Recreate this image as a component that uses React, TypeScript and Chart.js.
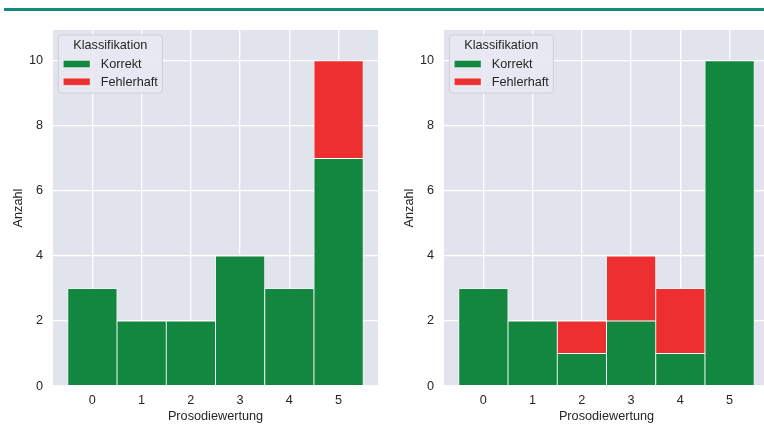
import React, { useEffect, useRef } from "react";
import { Chart, registerables } from "chart.js";

Chart.register(...registerables);

const categories = [0, 1, 2, 3, 4, 5];
const leftKorrekt = [3, 2, 2, 4, 3, 7];
const leftFehlerhaft = [0, 0, 0, 0, 0, 3];
const rightKorrekt = [3, 2, 1, 2, 1, 10];
const rightFehlerhaft = [0, 0, 1, 2, 2, 0];
const yTicks = [0, 2, 4, 6, 8, 10];
const legendTitle = "Klassifikation";
const seriesNames = ["Korrekt", "Fehlerhaft"];
const xTitle = "Prosodiewertung";
const yTitle = "Anzahl";

const GREEN = "#13873f";
const RED = "#ee2f30";
const BG = "#e2e4ed";
const TEXT = "#262626";
const FONT_FAMILY = "'Liberation Sans', Arial, sans-serif";
const FONT_SIZE = 12.7;

const bgPlugin = {
  id: "bgFill",
  beforeDraw(chart: any) {
    const { ctx, chartArea } = chart;
    ctx.save();
    ctx.fillStyle = BG;
    ctx.fillRect(chartArea.left, chartArea.top, chartArea.right - chartArea.left, chartArea.bottom - chartArea.top);
    ctx.restore();
  },
};

const legendPlugin = {
  id: "insideLegend",
  afterDraw(chart: any) {
    const { ctx, chartArea } = chart;
    const x0 = chartArea.left + 5.3;
    const y0 = chartArea.top + 5;
    const w = 104;
    const h = 58;
    ctx.save();
    ctx.beginPath();
    const r = 3;
    ctx.moveTo(x0 + r, y0);
    ctx.arcTo(x0 + w, y0, x0 + w, y0 + h, r);
    ctx.arcTo(x0 + w, y0 + h, x0, y0 + h, r);
    ctx.arcTo(x0, y0 + h, x0, y0, r);
    ctx.arcTo(x0, y0, x0 + w, y0, r);
    ctx.closePath();
    ctx.fillStyle = "rgba(232,233,241,0.85)";
    ctx.fill();
    ctx.strokeStyle = "#cfd0d6";
    ctx.lineWidth = 1;
    ctx.stroke();

    ctx.font = `${FONT_SIZE}px ${FONT_FAMILY}`;
    ctx.fillStyle = TEXT;
    ctx.textBaseline = "middle";
    ctx.textAlign = "center";
    ctx.fillText(legendTitle, x0 + w / 2, y0 + 10.7);

    const colors = [GREEN, RED];
    const rows = [y0 + 29, y0 + 46.7];
    ctx.textAlign = "left";
    seriesNames.forEach((name, i) => {
      ctx.fillStyle = colors[i];
      ctx.fillRect(x0 + 5, rows[i] - 3.5, 26.7, 7);
      ctx.strokeStyle = "rgba(255,255,255,0.6)";
      ctx.lineWidth = 0.6;
      ctx.strokeRect(x0 + 5, rows[i] - 3.5, 26.7, 7);
      ctx.fillStyle = TEXT;
      ctx.fillText(name, x0 + 42.4, rows[i] + 0.5);
    });
    ctx.restore();
  },
};

function Panel({ left, korrekt, fehlerhaft }: { left: number; korrekt: number[]; fehlerhaft: number[] }) {
  const ref = useRef<HTMLCanvasElement | null>(null);
  useEffect(() => {
    if (!ref.current) return;
    const font = { family: FONT_FAMILY, size: FONT_SIZE };
    const barCommon = {
      borderColor: "rgba(255,255,255,0.85)",
      borderWidth: 0.8,
      borderSkipped: false,
      categoryPercentage: 1,
      barPercentage: 1,
    };
    const chart = new Chart(ref.current, {
      type: "bar",
      data: {
        datasets: [
          {
            label: seriesNames[0],
            data: categories.map((c, i) => ({ x: c, y: korrekt[i] })).filter((p) => p.y > 0),
            backgroundColor: GREEN,
            ...barCommon,
          } as any,
          {
            label: seriesNames[1],
            data: categories.map((c, i) => ({ x: c, y: fehlerhaft[i] })).filter((p) => p.y > 0),
            backgroundColor: RED,
            ...barCommon,
          } as any,
        ],
      },
      options: {
        responsive: false,
        animation: false,
        devicePixelRatio: 1,
        layout: { padding: { top: 30, right: 4, left: 0, bottom: 0 } },
        plugins: { legend: { display: false }, tooltip: { enabled: false } },
        scales: {
          x: {
            type: "linear",
            min: -0.8,
            max: 5.8,
            offset: false,
            stacked: true,
            afterBuildTicks: (s: any) => {
              s.ticks = categories.map((v) => ({ value: v }));
            },
            afterFit: (s: any) => {
              s.height = 38;
            },
            grid: { color: "#ffffff", lineWidth: 1.3, drawTicks: false, offset: false },
            border: { display: false },
            ticks: { padding: 6.4, font, color: TEXT },
            title: { display: true, text: xTitle, padding: { top: 0, bottom: 0 }, font, color: TEXT },
          },
          y: {
            type: "linear",
            min: 0,
            max: 10.95,
            stacked: true,
            afterBuildTicks: (s: any) => {
              s.ticks = yTicks.map((v) => ({ value: v }));
            },
            afterFit: (s: any) => {
              s.width = 53;
            },
            grid: { color: "#ffffff", lineWidth: 1.3, drawTicks: false },
            border: { display: false },
            ticks: { padding: 10, font, color: TEXT },
            title: { display: true, text: yTitle, padding: { top: 10.4, bottom: 0 }, font, color: TEXT },
          },
        },
      } as any,
      plugins: [bgPlugin, legendPlugin],
    });
    return () => chart.destroy();
  }, [korrekt, fehlerhaft]);
  return (
    <canvas
      ref={ref}
      width={382}
      height={424}
      style={{ position: "absolute", left, top: 0, width: 382, height: 424 }}
    />
  );
}

export default function App() {
  return (
    <div
      style={{
        position: "fixed",
        left: 0,
        top: 0,
        width: 764,
        height: 424,
        overflow: "hidden",
        background: "#ffffff",
      }}
    >
      <div style={{ position: "absolute", left: 4, top: 8, width: 760, height: 3, background: "#138a7a" }} />
      <Panel left={0} korrekt={leftKorrekt} fehlerhaft={leftFehlerhaft} />
      <Panel left={391} korrekt={rightKorrekt} fehlerhaft={rightFehlerhaft} />
    </div>
  );
}
